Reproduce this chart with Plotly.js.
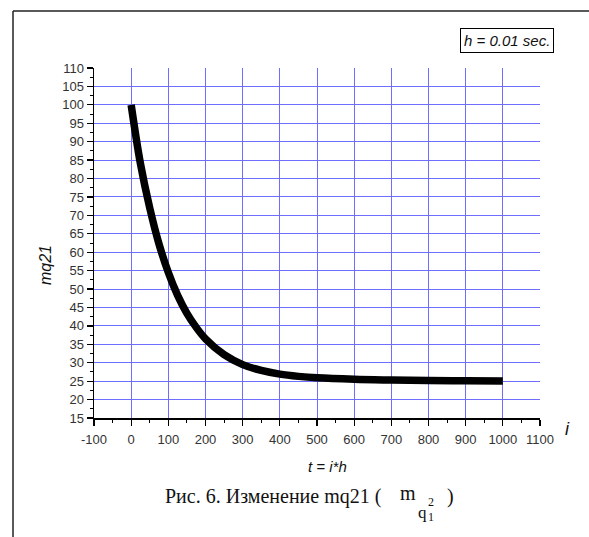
<!DOCTYPE html>
<html>
<head>
<meta charset="utf-8">
<script src="https://cdn.plot.ly/plotly-3.0.1.min.js"></script>
<style>
html,body{margin:0;padding:0;background:#fff;}
#chart{width:589px;height:537px;}
</style>
</head>
<body>
<div id="chart"></div>
<script>
// Data
const iValues = [0, 25, 50, 75, 100, 125, 150, 175, 200, 250, 300, 350, 400, 450, 500, 600, 700, 800, 900, 1000];
const mq21Values = [100, 84, 72, 62.2, 54.5, 48.3, 43.4, 39.6, 36.5, 32.2, 29.5, 27.9, 26.9, 26.3, 25.9, 25.5, 25.3, 25.15, 25.1, 25.05];
const xTickVals = [-100, 0, 100, 200, 300, 400, 500, 600, 700, 800, 900, 1000, 1100];
const xTickText = ['-100', '0', '100', '200', '300', '400', '500', '600', '700', '800', '900', '1000', '1100'];
const yTickVals = [15, 20, 25, 30, 35, 40, 45, 50, 55, 60, 65, 70, 75, 80, 85, 90, 95, 100, 105, 110];
const xGridVals = [0, 100, 200, 300, 400, 500, 600, 700, 800, 900, 1000];
const yGridVals = [20, 25, 30, 35, 40, 45, 50, 55, 60, 65, 70, 75, 80, 85, 90, 95, 100, 105];

const L = 94, R = 540, T = 68, B = 418;
const W = 589, H = 537;
const px = x => (x - L) / (R - L);
const py = y => (B - y) / (B - T);

const gridColor = '#6e6eff';
const sans = 'Liberation Sans, Arial, sans-serif';
const serif = 'Liberation Serif, Times New Roman, serif';
const tickFont = {family: sans, size: 13, color: '#333'};

const traces = [
  {
    x: iValues, y: mq21Values, type: 'scatter', mode: 'lines',
    line: {color: '#000', width: 7.5, shape: 'spline', smoothing: 1},
    hoverinfo: 'skip', showlegend: false, xaxis: 'x', yaxis: 'y'
  },
  {
    x: [-100], y: [15], type: 'scatter', mode: 'markers', marker: {opacity: 0},
    hoverinfo: 'skip', showlegend: false, xaxis: 'x2', yaxis: 'y2'
  }
];

function ann(text, x, y, font, extra) {
  return Object.assign({text: text, xref: 'paper', yref: 'paper', x: px(x), y: py(y),
    xanchor: 'center', yanchor: 'middle', showarrow: false, font: font}, extra || {});
}

const layout = {
  width: W, height: H,
  margin: {l: L, r: W - R, t: T, b: H - B, pad: 0},
  paper_bgcolor: '#fff', plot_bgcolor: 'rgba(0,0,0,0)',
  showlegend: false,
  xaxis: {
    range: [-100, 1100], tickvals: xTickVals, ticktext: xTickText, showgrid: false, zeroline: false,
    showline: true, linecolor: '#000', linewidth: 1.5,
    ticks: 'outside', ticklen: 6, tickwidth: 1.3, tickcolor: '#000',
    minor: {dtick: 50, ticks: 'outside', ticklen: 3, tickwidth: 1, tickcolor: '#000', showgrid: false},
    tickfont: tickFont, ticklabelstandoff: 3
  },
  yaxis: {
    range: [15, 110], tickvals: yTickVals, showgrid: false, zeroline: false,
    showline: true, linecolor: '#000', linewidth: 1.5,
    ticks: 'outside', ticklen: 6, tickwidth: 1.3, tickcolor: '#000',
    minor: {dtick: 2.5, ticks: 'outside', ticklen: 3, tickwidth: 1, tickcolor: '#000', showgrid: false},
    tickfont: tickFont
  },
  xaxis2: {
    range: [-100, 1100], overlaying: 'x', anchor: 'y2', tickvals: xGridVals,
    showgrid: true, gridcolor: gridColor, gridwidth: 1, showticklabels: false,
    ticks: '', zeroline: false, showline: false
  },
  yaxis2: {
    range: [15, 110], overlaying: 'y', anchor: 'x2', tickvals: yGridVals,
    showgrid: true, gridcolor: gridColor, gridwidth: 1, showticklabels: false,
    ticks: '', zeroline: false, showline: false
  },
  shapes: [
    {type: 'line', xref: 'paper', yref: 'paper', x0: px(13), x1: px(13), y0: py(11), y1: py(540),
     line: {color: '#222', width: 1.5}},
    {type: 'line', xref: 'paper', yref: 'paper', x0: px(13), x1: px(592), y0: py(11), y1: py(11),
     line: {color: '#222', width: 1.5}}
  ],
  annotations: [
    ann('h = 0.01 sec.', 507, 41, {family: sans, size: 15, color: '#111', style: 'italic'},
        {bordercolor: '#000', borderwidth: 1, borderpad: 3, bgcolor: '#fff'}),
    ann('mq21', 45, 265, {family: sans, size: 16, color: '#111', style: 'italic'}, {textangle: -90}),
    ann('t = i*h', 327, 466, {family: sans, size: 15, color: '#111', style: 'italic'}),
    ann('i', 567, 429, {family: sans, size: 18, color: '#111', style: 'italic'}),
    ann('Рис. 6. Изменение mq21 (', 384, 496, {family: serif, size: 20, color: '#111'}, {xanchor: 'right'}),
    ann('m', 408, 493, {family: serif, size: 20, color: '#111'}),
    ann('q', 422, 512, {family: serif, size: 17, color: '#111'}),
    ann('2', 431, 502, {family: serif, size: 12, color: '#111'}),
    ann('1', 431, 517, {family: serif, size: 12, color: '#111'}),
    ann(')', 450, 496, {family: serif, size: 20, color: '#111'})
  ]
};

Plotly.newPlot('chart', traces, layout, {displayModeBar: false, staticPlot: true});
</script>
</body>
</html>
